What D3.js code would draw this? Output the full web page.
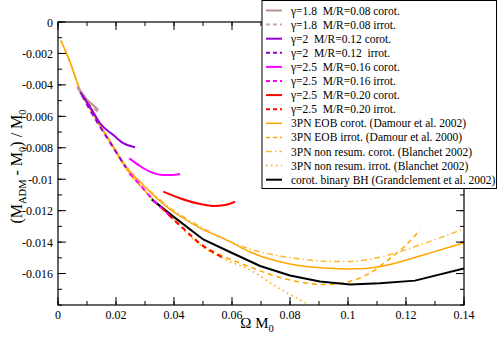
<!DOCTYPE html>
<html>
<head>
<meta charset="utf-8">
<script src="https://cdn.jsdelivr.net/npm/d3@7"></script>
<style>
  body { margin: 0; background: #fff; }
</style>
</head>
<body>
<div id="chart"></div>
<script>
// ---- data ----
const xTicks = [0, 0.02, 0.04, 0.06, 0.08, 0.1, 0.12, 0.14];
const xTickLabels = ["0", "0.02", "0.04", "0.06", "0.08", "0.1", "0.12", "0.14"];
const yTicks = [0, -0.002, -0.004, -0.006, -0.008, -0.01, -0.012, -0.014, -0.016];
const yTickLabels = ["0", "-0.002", "-0.004", "-0.006", "-0.008", "-0.01", "-0.012", "-0.014", "-0.016"];

// NS sequences
const g18_corot_w = [0.00666, 0.0083, 0.0099, 0.0116, 0.0139];
const g18_corot_E = [-0.00410, -0.00452, -0.00492, -0.0052, -0.0056];
const g18_irrot_w = [0.00666, 0.0083, 0.0099, 0.0116, 0.0139];
const g18_irrot_E = [-0.00416, -0.00462, -0.00505, -0.00536, -0.00574];

const g2_corot_w = [0.00759, 0.01103, 0.01448, 0.01907, 0.02252, 0.02655];
const g2_corot_E = [-0.00445, -0.00539, -0.00644, -0.00719, -0.00771, -0.00797];
const g2_irrot_w = [0.0083, 0.012, 0.018, 0.0235];
const g2_irrot_E = [-0.00468, -0.00590, -0.00768, -0.00928];

const g25a_corot_w = [0.02459, 0.02828, 0.03172, 0.03631, 0.03931, 0.04207];
const g25a_corot_E = [-0.00867, -0.00916, -0.00952, -0.00973, -0.00973, -0.00967];
const g25a_irrot_w = [0.0246, 0.02828, 0.03172, 0.0355, 0.0398];
const g25a_irrot_E = [-0.00962, -0.01035, -0.01110, -0.01180, -0.01253];

const g25b_corot_w = [0.03631, 0.04207, 0.04783, 0.05355, 0.05759, 0.06103];
const g25b_corot_E = [-0.01079, -0.01121, -0.01153, -0.0117, -0.01164, -0.01143];
const g25b_irrot_w = [0.036, 0.0398, 0.0445, 0.049, 0.0535, 0.0569];
const g25b_irrot_E = [-0.01185, -0.01255, -0.01335, -0.01410, -0.01465, -0.01500];

// PN / EOB
const eobCorot_w = [0.00103, 0.00414, 0.00759, 0.01207, 0.01793, 0.02369, 0.03, 0.03748, 0.04897, 0.05931, 0.06621, 0.08, 0.09483, 0.10069, 0.11103, 0.12483, 0.14];
const eobCorot_E = [-0.00119, -0.00254, -0.00433, -0.00582, -0.00757, -0.00925, -0.01049, -0.01175, -0.0131, -0.01397, -0.01463, -0.01539, -0.01568, -0.01571, -0.01556, -0.01488, -0.01404];

const eobIrrot_w = [0.00103, 0.00414, 0.00759, 0.01207, 0.01793, 0.02369, 0.03172, 0.03976, 0.04897, 0.05759, 0.06621, 0.07483, 0.08345, 0.09207, 0.10069, 0.10759, 0.11448, 0.11966, 0.12483];
const eobIrrot_E = [-0.00119, -0.00254, -0.00433, -0.00585, -0.00763, -0.00935, -0.01107, -0.0125, -0.01409, -0.01495, -0.01558, -0.01616, -0.01654, -0.0167, -0.0165, -0.01596, -0.01504, -0.01425, -0.01323];

const pnCorot_w = [0.00103, 0.00414, 0.00759, 0.01207, 0.01793, 0.02369, 0.03, 0.03748, 0.04897, 0.06621, 0.08345, 0.09379, 0.10069, 0.11103, 0.12483, 0.14];
const pnCorot_E = [-0.00119, -0.00254, -0.00433, -0.00581, -0.00755, -0.00921, -0.01043, -0.01165, -0.01300, -0.01444, -0.01507, -0.01523, -0.01523, -0.01495, -0.01418, -0.01315];

const pnIrrot_w = [0.00103, 0.00414, 0.00759, 0.01207, 0.01793, 0.02369, 0.03172, 0.03976, 0.04897, 0.05759, 0.06621, 0.07655, 0.08345, 0.08862];
const pnIrrot_E = [-0.00119, -0.00254, -0.00434, -0.00587, -0.00766, -0.00939, -0.01112, -0.01256, -0.01418, -0.01510, -0.01577, -0.01698, -0.01768, -0.0182];

// binary black holes
const bh_w = [0.0323, 0.0398, 0.0501, 0.0593, 0.0697, 0.08, 0.0903, 0.1007, 0.111, 0.1231, 0.14];
const bh_E = [-0.01128, -0.01238, -0.01383, -0.01463, -0.01552, -0.01612, -0.01651, -0.0167, -0.01662, -0.01645, -0.01568];

const series = [
  {label: "\u03b3=1.8  M/R=0.08 corot.", w: g18_corot_w, E: g18_corot_E, color: "#bc8f8f", dash: null, width: 2},
  {label: "\u03b3=1.8  M/R=0.08 irrot.", w: g18_irrot_w, E: g18_irrot_E, color: "#d2a5a5", dash: "5,4", width: 2},
  {label: "\u03b3=2  M/R=0.12 corot.", w: g2_corot_w, E: g2_corot_E, color: "#9400d3", dash: null, width: 2},
  {label: "\u03b3=2  M/R=0.12  irrot.", w: g2_irrot_w, E: g2_irrot_E, color: "#9400d3", dash: "5,4", width: 2},
  {label: "\u03b3=2.5  M/R=0.16 corot.", w: g25a_corot_w, E: g25a_corot_E, color: "#ff00ff", dash: null, width: 2},
  {label: "\u03b3=2.5  M/R=0.16 irrot.", w: g25a_irrot_w, E: g25a_irrot_E, color: "#ff00ff", dash: "5,4", width: 2},
  {label: "\u03b3=2.5  M/R=0.20 corot.", w: g25b_corot_w, E: g25b_corot_E, color: "#ff0000", dash: null, width: 2},
  {label: "\u03b3=2.5  M/R=0.20 irrot.", w: g25b_irrot_w, E: g25b_irrot_E, color: "#ff0000", dash: "5,4", width: 2},
  {label: "3PN EOB corot. (Damour et al. 2002)", w: eobCorot_w, E: eobCorot_E, color: "#ffa500", dash: null, width: 1.5},
  {label: "3PN EOB irrot. (Damour et al. 2000)", w: eobIrrot_w, E: eobIrrot_E, color: "#ffa500", dash: "5,4", width: 1.5},
  {label: "3PN non resum. corot. (Blanchet 2002)", w: pnCorot_w, E: pnCorot_E, color: "#ffb833", dash: "6,3,1.5,3", width: 1.5},
  {label: "3PN non resum. irrot. (Blanchet 2002)", w: pnIrrot_w, E: pnIrrot_E, color: "#ffa500", dash: "1.5,3.5", width: 1.5},
  {label: "corot. binary BH (Grandclement et al. 2002)", w: bh_w, E: bh_E, color: "#000000", dash: null, width: 2}
];

// ---- layout ----
const W = 498, H = 341;
const FONT = "'Liberation Serif', 'Times New Roman', 'DejaVu Serif', serif";
const margin = {top: 22, right: 34, bottom: 36, left: 58};
const width = W - margin.left - margin.right,
      height = H - margin.top - margin.bottom;

const x = d3.scaleLinear().domain([0, 0.14]).range([0, width]);
const y = d3.scaleLinear().domain([-0.018, 0]).range([height, 0]);

const svg = d3.select("#chart").append("svg")
    .attr("width", W)
    .attr("height", H)
    .attr("font-family", FONT);

const g = svg.append("g")
    .attr("transform", `translate(${margin.left}, ${margin.top})`);

g.append("clipPath").attr("id", "clip")
  .append("rect").attr("width", width).attr("height", height);

//curves
const smooth = d3.line()
    .x(d => x(d[0]))
    .y(d => y(d[1]))
    .curve(d3.curveMonotoneX);
const straight = d3.line()
    .x(d => x(d[0]))
    .y(d => y(d[1]));

const plot = g.append("g").attr("clip-path", "url(#clip)");
// draw orange & black first, NS sequences on top
const order = [8, 9, 10, 11, 12, 1, 0, 3, 2, 5, 4, 7, 6];
order.forEach(i => {
  const s = series[i];
  plot.append("path")
    .datum(s.w.map((w, k) => [w, s.E[k]]))
    .attr("fill", "none")
    .attr("stroke", s.color)
    .attr("stroke-width", s.width)
    .attr("stroke-dasharray", s.dash)
    .attr("d", i === 12 ? straight : smooth);
});

//axes: ticks pointing inward on all four sides
const xMinor = d3.range(0, 0.1401, 0.01);
const yMinor = d3.range(-0.018, 0.00001, 0.001);

function tickMarks(sel, vals, len, side) {
  vals.forEach(v => {
    let x1, y1, x2, y2;
    if (side === "bottom") { x1 = x2 = x(v); y1 = height; y2 = height - len; }
    if (side === "top")    { x1 = x2 = x(v); y1 = 0; y2 = len; }
    if (side === "left")   { y1 = y2 = y(v); x1 = 0; x2 = len; }
    if (side === "right")  { y1 = y2 = y(v); x1 = width; x2 = width - len; }
    sel.append("line")
      .attr("x1", x1).attr("y1", y1).attr("x2", x2).attr("y2", y2)
      .attr("stroke", "#000").attr("stroke-width", 1);
  });
}

const axes = g.append("g");
axes.append("rect")
    .attr("width", width).attr("height", height)
    .attr("fill", "none").attr("stroke", "#000").attr("stroke-width", 1.2);
["bottom", "top"].forEach(s => { tickMarks(axes, xTicks, 8, s); tickMarks(axes, xMinor, 4, s); });
["left", "right"].forEach(s => { tickMarks(axes, yTicks, 8, s); tickMarks(axes, yMinor, 4, s); });

xTicks.forEach((v, i) => {
  axes.append("text")
    .attr("x", x(v)).attr("y", height + 14)
    .attr("text-anchor", "middle")
    .attr("font-size", 12)
    .text(xTickLabels[i]);
});
yTicks.forEach((v, i) => {
  axes.append("text")
    .attr("x", -5).attr("y", y(v) + 4.5)
    .attr("text-anchor", "end")
    .attr("font-size", 12)
    .text(yTickLabels[i]);
});

//axis titles
const xl = svg.append("text")
    .attr("x", margin.left + width / 2 - 4)
    .attr("y", 328)
    .attr("text-anchor", "middle")
    .attr("font-size", 15);
xl.append("tspan").text("\u03a9 M");
xl.append("tspan").attr("font-size", 10.5).attr("dy", 4).text("0");

const yl = svg.append("text")
    .attr("transform", `translate(22, ${margin.top + height / 2 + 3}) rotate(-90)`)
    .attr("text-anchor", "middle")
    .attr("font-size", 16);
yl.append("tspan").text("(M");
yl.append("tspan").attr("font-size", 10.5).attr("dy", 4).text("ADM");
yl.append("tspan").attr("dy", -4).text(" - M");
yl.append("tspan").attr("font-size", 10.5).attr("dy", 4).text("0");
yl.append("tspan").attr("dy", -4).text(") / M");
yl.append("tspan").attr("font-size", 10.5).attr("dy", 4).text("0");

//legend
const leg = svg.append("g").attr("transform", "translate(262, 0.5)");
leg.append("rect")
    .attr("width", 234.5).attr("height", 188)
    .attr("fill", "#fff").attr("stroke", "#000").attr("stroke-width", 1);
series.forEach((s, i) => {
  const yy = 10 + i * 14.1;
  leg.append("line")
    .attr("x1", 4).attr("x2", 20).attr("y1", yy).attr("y2", yy)
    .attr("stroke", s.color).attr("stroke-width", s.width)
    .attr("stroke-dasharray", s.dash ? (s.dash === "5,4" ? "4,3" : s.dash) : null);
  leg.append("text")
    .attr("x", 29).attr("y", yy + 4)
    .attr("font-size", 11.5)
    .style("white-space", "pre")
    .text(s.label);
});
</script>
</body>
</html>
